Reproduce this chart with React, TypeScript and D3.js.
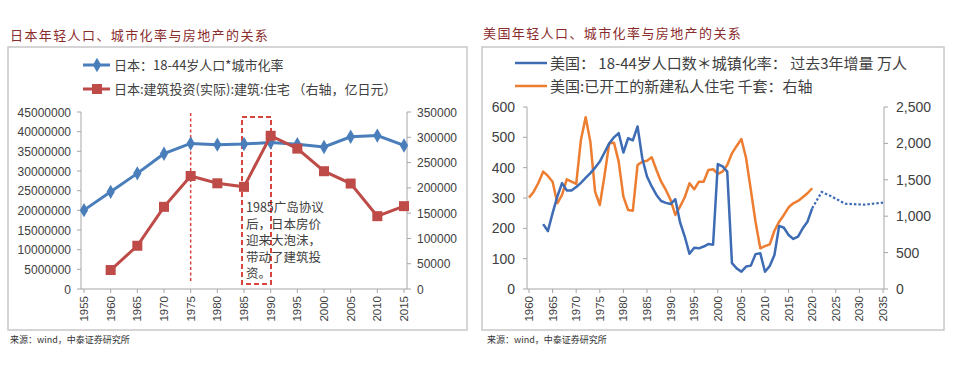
import * as d3 from 'd3';

// ---- Japan chart data ----
const JP_YEARS = [1955, 1960, 1965, 1970, 1975, 1980, 1985, 1990, 1995, 2000, 2005, 2010, 2015];
const JP_YOUNG_URBAN = [20050000, 24700000, 29400000, 34400000, 37000000, 36700000, 36850000, 37250000, 36800000, 36100000, 38700000, 39000000, 36500000];
const JP_HOUSING_INV = [null, 37500, 85500, 162500, 223400, 209000, 202000, 303000, 277600, 232900, 208500, 144000, 163800];
const JP_LEFT_TICKS = [0, 5000000, 10000000, 15000000, 20000000, 25000000, 30000000, 35000000, 40000000, 45000000];
const JP_RIGHT_TICKS = [0, 50000, 100000, 150000, 200000, 250000, 300000, 350000];
const JP_NOTE = ['1985广岛协议', '后，日本房价', '迎来大泡沫，', '带动了建筑投', '资。'];

// ---- US chart data ----
const US_POP_YEARS = [1963, 1964, 1965, 1966, 1967, 1968, 1969, 1970, 1971, 1972, 1973, 1974, 1975, 1976, 1977, 1978, 1979,
  1980, 1981, 1982, 1983, 1984, 1985, 1986, 1987, 1988, 1989, 1990, 1991, 1992, 1993, 1994, 1995, 1996, 1997, 1998, 1999,
  2000, 2001, 2002, 2003, 2004, 2005, 2006, 2007, 2008, 2009, 2010, 2011, 2012, 2013, 2014, 2015, 2016, 2017, 2018, 2019, 2020];
const US_POP = [214, 191, 250, 305, 349, 325, 325, 336, 350, 366, 382, 400, 420, 450, 480, 500, 514,
  450, 497, 490, 536, 431, 371, 338, 310, 290, 284, 280, 296, 220, 173, 116, 136, 134, 140, 148, 146,
  412, 404, 387, 85, 68, 57, 74, 77, 115, 118, 57, 76, 112, 208, 202, 178, 165, 173, 200, 222, 266];
const US_PROJ_YEARS = [2020, 2022, 2024, 2027, 2031, 2035];
const US_PROJ = [266, 320, 306, 281, 278, 285];
const US_STARTS_YEARS = d3.range(1960, 2021);
const US_STARTS = [1255, 1337, 1460, 1612, 1553, 1474, 1177, 1292, 1507, 1474, 1443, 2047, 2359, 2024, 1337, 1154, 1560, 2002, 2010, 1749,
  1268, 1085, 1076, 1704, 1749, 1763, 1809, 1635, 1474, 1360, 1223, 1017, 1131, 1260, 1452, 1370, 1474, 1474, 1635, 1645,
  1580, 1612, 1704, 1864, 1965, 2061, 1795, 1360, 920, 559, 590, 614, 800, 925, 1017, 1122, 1177, 1209, 1260, 1315, 1384];
const US_LEFT_TICKS = [0, 100, 200, 300, 400, 500, 600];
const US_RIGHT_TICKS = [0, 500, 1000, 1500, 2000, 2500];
const US_X_TICKS = d3.range(1960, 2036, 5);

const FONT = '"Liberation Sans", Arial, "Noto Sans CJK SC", sans-serif';
const CJK = '"Noto Sans CJK SC", "Liberation Sans", sans-serif';
const AXIS = '#a6a6a6';
const LABEL = '#404040';
const TITLE = '#8b2c2c';

function JapanChart() {
  const x = d3.scalePoint<number>().domain(JP_YEARS).range([84, 404]);
  const yL = d3.scaleLinear().domain([0, 45000000]).range([289, 112]);
  const yR = d3.scaleLinear().domain([0, 350000]).range([289, 112]);
  const blue = '#4a7ebb';
  const red = '#be4b48';

  const popPts = JP_YEARS.map((yr, i) => [x(yr)!, yL(JP_YOUNG_URBAN[i])] as [number, number]);
  const invPts = JP_YEARS.map((yr, i) => ({ yr, v: JP_HOUSING_INV[i] }))
    .filter(d => d.v != null)
    .map(d => [x(d.yr)!, yR(d.v as number)] as [number, number]);
  const line = d3.line();
  const diamond = d3.symbol(d3.symbolDiamond, 60)()!;

  return (
    <g>
      <text x={10} y={40} fontFamily={CJK} fontSize={13} letterSpacing={1.4} fill={TITLE}>日本年轻人口、城市化率与房地产的关系</text>
      <rect x={8} y={47} width={459} height={283} fill="none" stroke="#c8c8c8" strokeWidth={1.5} />

      {/* legend */}
      <line x1={83} x2={110} y1={65} y2={65} stroke={blue} strokeWidth={3} />
      <path d={diamond} transform="translate(97,65)" fill={blue} />
      <text x={114} y={69.5} fontFamily={CJK} fontSize={13} fill={LABEL}>日本：18-44岁人口*城市化率</text>
      <line x1={83} x2={110} y1={89} y2={89} stroke={red} strokeWidth={3} />
      <rect x={92} y={84} width={10} height={10} fill={red} />
      <text x={114} y={93.5} fontFamily={CJK} fontSize={13} fill={LABEL}>日本:建筑投资(实际):建筑:住宅 （右轴，亿日元）</text>

      {/* axes */}
      <line x1={81} x2={81} y1={112} y2={289} stroke={AXIS} />
      <line x1={407} x2={407} y1={112} y2={289} stroke={AXIS} />
      <line x1={81} x2={407} y1={289} y2={289} stroke={AXIS} />
      {JP_LEFT_TICKS.map(t => (
        <g key={t}>
          <line x1={77} x2={81} y1={yL(t)} y2={yL(t)} stroke={AXIS} />
          <text x={71} y={yL(t) + 4.5} textAnchor="end" fontFamily={FONT} fontSize={12} fill={LABEL}>{t}</text>
        </g>
      ))}
      {JP_RIGHT_TICKS.map(t => (
        <g key={t}>
          <line x1={407} x2={411} y1={yR(t)} y2={yR(t)} stroke={AXIS} />
          <text x={417} y={yR(t) + 4.5} fontFamily={FONT} fontSize={12} fill={LABEL}>{t}</text>
        </g>
      ))}
      {JP_YEARS.map(yr => (
        <g key={yr}>
          <line x1={x(yr)} x2={x(yr)} y1={289} y2={293} stroke={AXIS} />
          <text transform={`translate(${x(yr)! + 4},${296}) rotate(-90)`} textAnchor="end" fontFamily={FONT} fontSize={11.5} fill={LABEL}>{yr}</text>
        </g>
      ))}

      {/* annotation */}
      <line x1={x(1975)} x2={x(1975)} y1={113} y2={283} stroke="#d9443f" strokeWidth={1.5} strokeDasharray="3,2.5" />
      <rect x={242} y={117} width={29} height={167} fill="none" stroke="#d9443f" strokeWidth={2} strokeDasharray="5,3" />

      {/* series */}
      <path d={line(popPts)!} fill="none" stroke={blue} strokeWidth={3} />
      {popPts.map((p, i) => <path key={i} d={diamond} transform={`translate(${p[0]},${p[1]})`} fill={blue} />)}
      <path d={line(invPts)!} fill="none" stroke={red} strokeWidth={3} />
      {invPts.map((p, i) => <rect key={i} x={p[0] - 5} y={p[1] - 5} width={10} height={10} fill={red} />)}

      {JP_NOTE.map((s, i) => (
        <text key={i} x={246} y={212 + i * 16.5} fontFamily={CJK} fontSize={12.5} fill={LABEL}>{s}</text>
      ))}

      <text x={10} y={343} fontFamily={CJK} fontSize={9} fill="#333">来源：wind，中泰证券研究所</text>
    </g>
  );
}

function USChart() {
  const x = d3.scaleLinear().domain([1960, 2035]).range([529, 883]);
  const yL = d3.scaleLinear().domain([0, 600]).range([289, 107]);
  const yR = d3.scaleLinear().domain([0, 2500]).range([289, 107]);
  const blue = '#3d6cb5';
  const orange = '#ed7d31';

  const line = d3.line<number>();
  const popLine = d3.line<number>().x((_, i) => x(US_POP_YEARS[i])).y(d => yL(d))(US_POP)!;
  const projLine = d3.line<number>().x((_, i) => x(US_PROJ_YEARS[i])).y(d => yL(d))(US_PROJ)!;
  const startsLine = d3.line<number>().x((_, i) => x(US_STARTS_YEARS[i])).y(d => yR(d))(US_STARTS)!;
  void line;

  return (
    <g>
      <text x={483} y={38} fontFamily={CJK} fontSize={13} letterSpacing={1.4} fill={TITLE}>美国年轻人口、城市化率与房地产的关系</text>
      <rect x={482} y={47} width={462} height={283} fill="none" stroke="#c8c8c8" strokeWidth={1.5} />

      {/* legend */}
      <line x1={515} x2={547} y1={63} y2={63} stroke={blue} strokeWidth={2.5} />
      <text x={550} y={68.5} fontFamily={CJK} fontSize={15} fill={LABEL}>美国： 18-44岁人口数＊城镇化率： 过去3年增量 万人</text>
      <line x1={515} x2={547} y1={86} y2={86} stroke={orange} strokeWidth={2.5} />
      <text x={550} y={91.5} fontFamily={CJK} fontSize={15} fill={LABEL}>美国:已开工的新建私人住宅 千套：右轴</text>

      {/* axes */}
      <line x1={527} x2={527} y1={107} y2={289} stroke={AXIS} />
      <line x1={884} x2={884} y1={107} y2={289} stroke={AXIS} />
      <line x1={527} x2={884} y1={289} y2={289} stroke={AXIS} />
      {US_LEFT_TICKS.map(t => (
        <g key={t}>
          <line x1={523} x2={527} y1={yL(t)} y2={yL(t)} stroke={AXIS} />
          <text x={515} y={yL(t) + 5} textAnchor="end" fontFamily={FONT} fontSize={14} fill={LABEL}>{t}</text>
        </g>
      ))}
      {US_RIGHT_TICKS.map(t => (
        <g key={t}>
          <line x1={884} x2={888} y1={yR(t)} y2={yR(t)} stroke={AXIS} />
          <text x={896} y={yR(t) + 5} fontFamily={FONT} fontSize={14} fill={LABEL}>{d3.format(',')(t)}</text>
        </g>
      ))}
      {US_X_TICKS.map(yr => (
        <g key={yr}>
          <line x1={x(yr)} x2={x(yr)} y1={289} y2={293} stroke={AXIS} />
          <text transform={`translate(${x(yr) + 4},${296}) rotate(-90)`} textAnchor="end" fontFamily={FONT} fontSize={11.5} fill={LABEL}>{yr}</text>
        </g>
      ))}

      {/* series */}
      <path d={startsLine} fill="none" stroke={orange} strokeWidth={2.5} strokeLinejoin="round" />
      <path d={popLine} fill="none" stroke={blue} strokeWidth={2.5} strokeLinejoin="round" />
      <path d={projLine} fill="none" stroke={blue} strokeWidth={2.2} strokeDasharray="2.5,2" />

      <text x={487} y={343} fontFamily={CJK} fontSize={9} fill="#333">来源：wind，中泰证券研究所</text>
    </g>
  );
}

export default function App() {
  return (
    <svg width={955} height={389} style={{ position: 'absolute', left: 0, top: 0, background: '#fff' }}>
      <rect width={955} height={389} fill="#fff" />
      <JapanChart />
      <USChart />
    </svg>
  );
}
